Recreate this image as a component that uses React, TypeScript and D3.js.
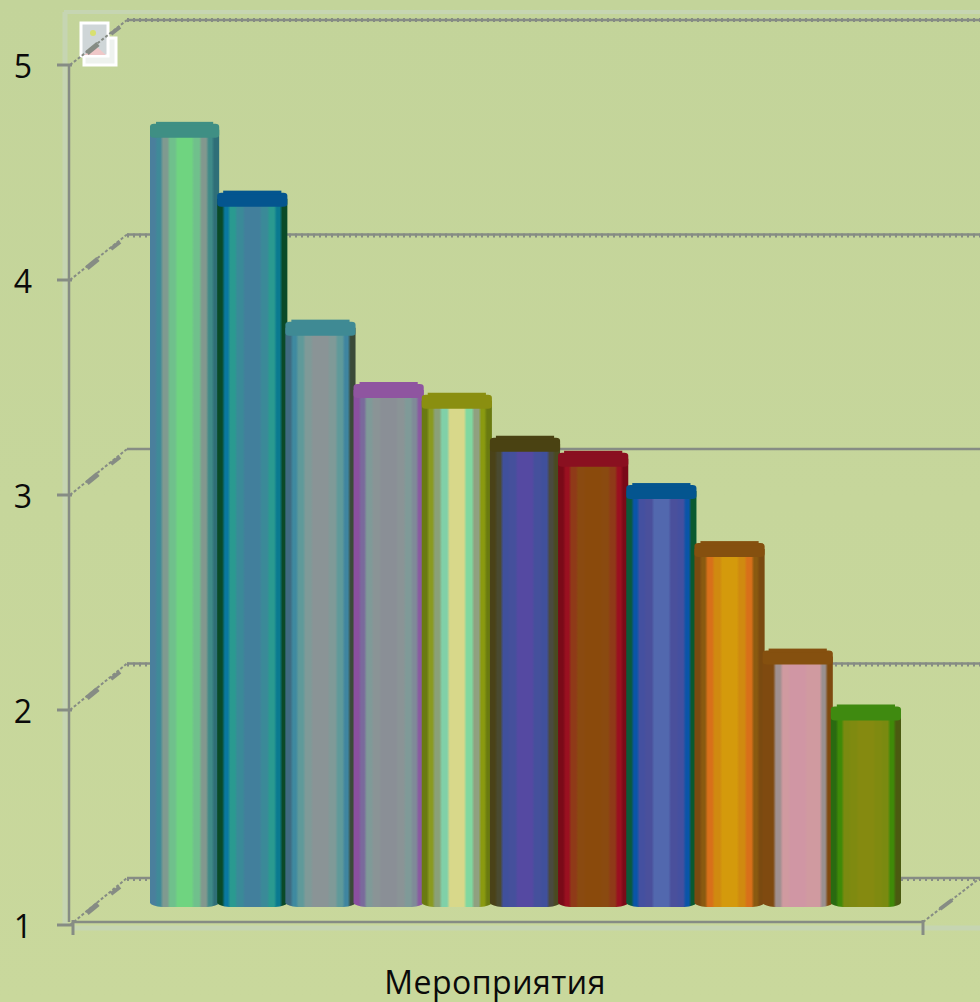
import React from "react";
import * as d3 from "d3";

const events = ["1","2","3","4","5","6","7","8","9","10","11"];
const scores = [4.61, 4.29, 3.69, 3.40, 3.35, 3.15, 3.08, 2.93, 2.66, 2.16, 1.90];
const tickValues = [1, 2, 3, 4, 5];
const axisTitle = "Мероприятия";

const capColors = ["#3f8f84","#04558f","#3f8a94","#8f55a0","#8a8f10","#4a4212","#8a1020","#04558f","#85500f","#85500f","#3f8a10"];
const stripeColors = [
  ["#4a7f9c","#3f8a98","#7f9a90","#6fc08c","#6fd480","#70c08c","#82988e","#3f8a88","#2f6f78"],
  ["#0a4a28","#0a78a0","#2a9a90","#3a8a98","#427f9c","#3a8a98","#2a9a90","#0a7a90","#0a4a28"],
  ["#3f6a80","#3f8aa0","#5f9a9a","#7f9a98","#8a9496","#7f9a98","#5f9a9a","#3f85a0","#3a4a38"],
  ["#8a4fa0","#7a6a9c","#7f9a98","#8a9496","#8a8f96","#8a9496","#7f9a98","#7f8a98","#8a5aa0"],
  ["#6a7a10","#8a9a20","#8aa078","#80d0a8","#d8d88a","#80d8a0","#90a080","#8a9a10","#6a7a10"],
  ["#4a4218","#4a4a30","#40509c","#45509c","#5549a2","#45509c","#40509c","#4a4a40","#4a4a20"],
  ["#7a0a18","#9a1020","#8f3a18","#8a4a10","#8a4a0c","#8a4a10","#8f3a18","#9a1020","#7a0a18"],
  ["#0a5a3a","#0a55a8","#4450a0","#4a509c","#5268ae","#4a509c","#4450a0","#0a55a8","#0a5a30"],
  ["#7a4a10","#8a5a10","#d8701a","#d08a10","#d49a0c","#d08a10","#d8701a","#8a5a10","#7a4a10"],
  ["#7f4a10","#7f4a10","#a09090","#d09aa0","#d096a4","#d09aa0","#d09aa0","#9a9090","#7f4a10"],
  ["#2a6a10","#3f8a08","#7a8a10","#7f8a10","#858a10","#7f8a10","#7a8a10","#3f8a08","#4a5a10"],
];
const stripeStops = [0, 0.09, 0.17, 0.27, 0.38, 0.62, 0.73, 0.83, 0.91, 1];

const W = 980, H = 1002;
const yFront = d3.scaleLinear().domain([1, 5]).range([925, 65]);
const yBar = d3.scaleLinear().domain([1, 5]).range([906, 46]);
const yBack = d3.scaleLinear().domain([1, 5]).range([878, 20]);
const x = d3.scaleBand().domain(events).range([150, 900]).paddingInner(0);

const GRAY = "#868c84";
const LIGHT = "#c6d5b2";

function barPath(x0: number, x1: number, top: number) {
  const p = d3.path();
  p.moveTo(x0, top);
  p.lineTo(x1, top);
  p.lineTo(x1, 903);
  p.quadraticCurveTo(x1 - 2, 906, x1 - 12, 907);
  p.lineTo(x0 + 12, 907);
  p.quadraticCurveTo(x0 + 2, 906, x0, 903);
  p.closePath();
  return p.toString();
}

export default function App() {
  const bw = x.bandwidth();
  return (
    <svg width={W} height={H} viewBox={`0 0 ${W} ${H}`} style={{ position: "absolute", left: 0, top: 0, display: "block" }}>
      <defs>
        <linearGradient id="bg" x1="0" y1="0" x2="0" y2="1">
          <stop offset="0" stopColor="#c3d49a" />
          <stop offset="1" stopColor="#c9d89c" />
        </linearGradient>
        {stripeColors.map((cols, i) => (
          <linearGradient key={i} id={`bar${i}`} x1="0" y1="0" x2="1" y2="0">
            {cols.flatMap((c, j) => [
              <stop key={`${j}a`} offset={stripeStops[j] + 0.02} stopColor={c} />,
              <stop key={`${j}b`} offset={stripeStops[j + 1] - 0.02} stopColor={c} />,
            ])}
          </linearGradient>
        ))}
      </defs>
      <rect width={W} height={H} fill="url(#bg)" />

      {/* frame highlights */}
      <line x1={64} y1={12} x2={W} y2={12} stroke={LIGHT} strokeWidth={4} />
      <line x1={65} y1={12} x2={65} y2={925} stroke={LIGHT} strokeWidth={5} />
      <line x1={72} y1={928} x2={W} y2={928} stroke={LIGHT} strokeWidth={5} />

      {/* picture placeholder icon */}
      <g>
        <rect x={84} y={38} width={32} height={27} fill="#eef2ee" stroke="#fff" strokeWidth={3} />
        <rect x={81} y={23} width={27} height={33} fill="#cfd6d8" stroke="#fff" strokeWidth={3} />
        <circle cx={93} cy={33} r={3} fill="#d8e070" />
        <path d="M84 55 L96 46 L106 55 Z" fill="#efc8c8" />
      </g>

      {/* back wall grid and side-wall diagonals */}
      {tickValues.map((t) => (
        <g key={t}>
          <line x1={127} x2={W} y1={yBack(t)} y2={yBack(t)} stroke={GRAY} strokeWidth={2.5} />
          {t !== 3 && (
            <line x1={127} x2={W} y1={yBack(t) + (t === 5 ? 0 : 1)} y2={yBack(t) + (t === 5 ? 0 : 1)} stroke={GRAY} strokeWidth={4} strokeDasharray="2 4" />
          )}
          <line x1={70} y1={yFront(t)} x2={127} y2={yBack(t)} stroke={GRAY} strokeWidth={2} strokeDasharray="3 2" />
          <line x1={87} y1={yFront(t) - 12} x2={98} y2={yFront(t) - 21} stroke={GRAY} strokeWidth={5} />
          <line x1={111} y1={yFront(t) - 31} x2={120} y2={yFront(t) - 38} stroke={GRAY} strokeWidth={4} />
          <line x1={57} x2={72} y1={yFront(t)} y2={yFront(t)} stroke={GRAY} strokeWidth={3} />
          <text x={23} y={yFront(t) + 13} textAnchor="middle" fontFamily="'Open Sans', sans-serif" fontSize={32} fill="#0a0a0a">{t}</text>
        </g>
      ))}

      {/* axes */}
      <line x1={69} y1={yFront(5)} x2={69} y2={yFront(1) - 3} stroke={GRAY} strokeWidth={2.5} />
      <line x1={72} y1={922} x2={923} y2={922} stroke={GRAY} strokeWidth={2.5} />
      <line x1={73} y1={920} x2={73} y2={935} stroke={GRAY} strokeWidth={3} />
      <line x1={923} y1={920} x2={923} y2={935} stroke={GRAY} strokeWidth={3} />
      <line x1={923} y1={922} x2={980} y2={878} stroke={GRAY} strokeWidth={2} strokeDasharray="3 2" />
      <line x1={940} y1={909} x2={952} y2={900} stroke={GRAY} strokeWidth={4} />

      {/* bars */}
      {events.map((e, i) => {
        const top = yBar(scores[i]);
        const bx = x(e)! - (i > 0 ? 1 : 0);
        const w = bw + (i > 0 ? 2 : 1);
        return (
          <g key={e}>
            <path d={barPath(bx, bx + w, top)} fill={`url(#bar${i})`} />
            <rect x={bx} y={top - 6} width={w} height={14} rx={4} ry={3} fill={capColors[i]} />
            <rect x={bx + 6} y={top - 8} width={w - 12} height={4} fill={capColors[i]} />
          </g>
        );
      })}

      <text x={495} y={994} textAnchor="middle" fontFamily="'Open Sans', sans-serif" fontSize={32} letterSpacing={0.5} fill="#0a0a0a">{axisTitle}</text>
    </svg>
  );
}
